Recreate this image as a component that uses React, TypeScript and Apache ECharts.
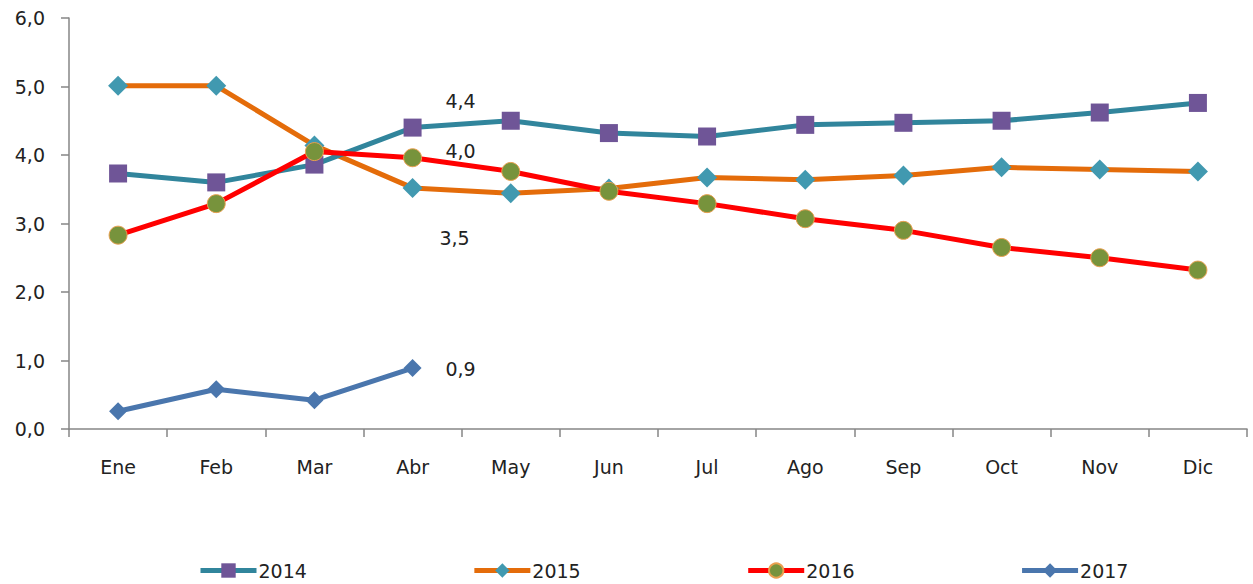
import React, { useEffect, useRef } from "react";
import * as echarts from "echarts";

const months = ["Ene", "Feb", "Mar", "Abr", "May", "Jun", "Jul", "Ago", "Sep", "Oct", "Nov", "Dic"];
const s2014 = [3.73, 3.6, 3.86, 4.4, 4.5, 4.32, 4.27, 4.44, 4.47, 4.5, 4.62, 4.76];
const s2015 = [5.01, 5.01, 4.14, 3.52, 3.44, 3.51, 3.67, 3.64, 3.7, 3.82, 3.79, 3.76];
const s2016 = [2.83, 3.29, 4.05, 3.96, 3.76, 3.47, 3.29, 3.07, 2.9, 2.65, 2.5, 2.32];
const s2017 = [0.26, 0.58, 0.42, 0.89];
const yTicks = [0, 1, 2, 3, 4, 5, 6];

const FONT = "DejaVu Sans";
const fmt = (v: number) => v.toFixed(1).replace(".", ",");

function withLabel(data: number[], idx: number, offset: [number, number]) {
  return data.map((v, i) =>
    i === idx
      ? {
          value: v,
          label: {
            show: true,
            position: "inside",
            offset,
            formatter: () => fmt(v),
            color: "#222",
            fontFamily: FONT,
            fontSize: 19,
          },
        }
      : v
  );
}

export default function App() {
  const ref = useRef<HTMLDivElement>(null);
  useEffect(() => {
    if (!ref.current) return;
    const chart = echarts.init(ref.current, undefined, { renderer: "svg" });
    chart.setOption({
      animation: false,
      backgroundColor: "#fff",
      textStyle: { fontFamily: FONT },
      grid: { left: 69, right: 6, top: 18, bottom: 155 },
      legend: {
        left: 198,
        top: 561,
        padding: 0,
        itemWidth: 56,
        itemHeight: 18,
        itemGap: 165,
        lineStyle: { width: 5 },
        textStyle: { fontFamily: FONT, fontSize: 19, color: "#222", padding: [0, 0, 0, -3] },
        data: ["2014", "2015", "2016", "2017"],
      },
      xAxis: {
        type: "category",
        data: months,
        boundaryGap: true,
        axisLine: { lineStyle: { color: "#868686", width: 1.5 } },
        axisTick: { show: true, length: 8, alignWithLabel: false, lineStyle: { color: "#868686", width: 1.5 } },
        axisLabel: { color: "#222", fontFamily: FONT, fontSize: 19, margin: 28 },
        splitLine: { show: false },
      },
      yAxis: {
        type: "value",
        min: yTicks[0],
        max: yTicks[yTicks.length - 1],
        interval: 1,
        axisLine: { show: true, lineStyle: { color: "#868686", width: 1.5 } },
        axisTick: { show: true, length: 8, lineStyle: { color: "#868686", width: 1.5 } },
        axisLabel: { color: "#222", fontFamily: FONT, fontSize: 19, margin: 24, formatter: (v: number) => fmt(v) },
        splitLine: { show: false },
      },
      series: [
        {
          name: "2014",
          type: "line",
          data: withLabel(s2014, 3, [48, -27]),
          symbol: "rect",
          symbolSize: 18,
          lineStyle: { color: "#31859C", width: 5 },
          itemStyle: { color: "#6F5597", borderWidth: 0 },
          z: 3,
        },
        {
          name: "2015",
          type: "line",
          data: withLabel(s2015, 3, [42, 50]),
          symbol: "diamond",
          symbolSize: 20,
          lineStyle: { color: "#E46C0A", width: 5 },
          itemStyle: { color: "#4199B0", borderWidth: 0 },
          z: 2,
        },
        {
          name: "2016",
          type: "line",
          data: withLabel(s2016, 3, [48, -7]),
          symbol: "circle",
          symbolSize: 18,
          lineStyle: { color: "#FF0000", width: 5 },
          itemStyle: { color: "#77933C", borderColor: "#E9A04F", borderWidth: 1 },
          z: 4,
        },
        {
          name: "2017",
          type: "line",
          data: withLabel(s2017, 3, [48, 1]),
          symbol: "diamond",
          symbolSize: 18,
          lineStyle: { color: "#4A76AD", width: 5 },
          itemStyle: { color: "#4A76AD", borderWidth: 0 },
          z: 5,
        },
      ],
    });
    return () => chart.dispose();
  }, []);
  return (
    <div
      ref={ref}
      style={{ position: "absolute", left: 0, top: 0, width: 1253, height: 584, background: "#fff" }}
    />
  );
}
